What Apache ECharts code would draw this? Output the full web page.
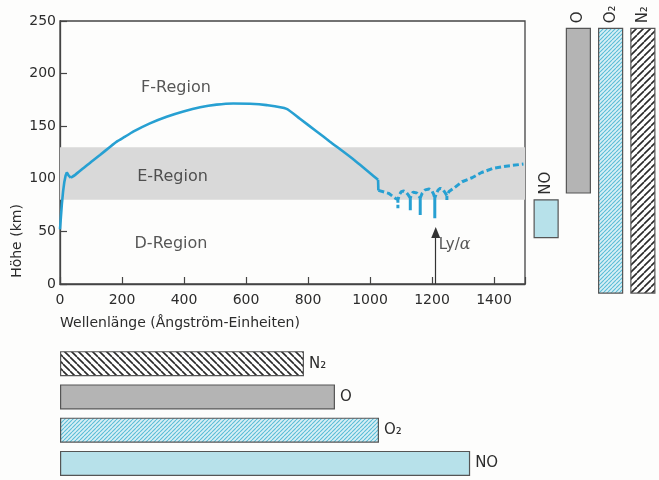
<!DOCTYPE html>
<html><head><meta charset="utf-8">
<script src="https://cdn.jsdelivr.net/npm/echarts@6/dist/echarts.min.js"></script>
<style>html,body{margin:0;padding:0;background:#fdfdfc}#c{width:659px;height:480px}</style>
</head><body><div id="c"></div>
<script>
// ---- data ----
const solidX = [0, 3, 6, 10, 14, 18, 22, 28, 35, 50, 75, 100, 129, 160, 183, 210, 236, 290, 344, 398, 452, 505, 559, 613, 667, 731, 774, 828, 871, 950, 1026, 1027];
const solidY = [52, 64, 76, 88, 97, 103, 106, 103, 101, 104, 110, 116, 122.6, 130, 135.3, 140, 144.8, 152.7, 159, 164, 168, 170.5, 171.6, 171.4, 170, 166.5, 157, 145, 135.3, 117.7, 99, 89];
const dashX = [1027, 1033, 1060, 1082, 1090, 1090, 1090, 1095, 1101, 1109, 1117, 1124, 1130, 1130, 1130, 1134, 1139, 1144, 1151, 1157, 1162, 1162, 1162, 1168, 1178, 1191, 1200, 1205, 1209, 1209, 1209, 1214, 1220, 1227, 1236, 1243, 1248, 1248, 1248, 1255, 1270, 1297, 1329, 1360, 1398, 1445, 1495];
const dashY = [89, 88.4, 86.2, 81.5, 80, 72, 80, 85, 87.8, 88.4, 87, 84.5, 81.7, 70, 81.7, 85, 87.3, 87.7, 86.5, 84, 81.7, 65.5, 81.7, 86, 89.5, 90.3, 88.5, 85.5, 81.7, 62.5, 81.7, 86, 89.5, 91, 89.5, 86.5, 84, 79.8, 84, 88, 91, 97.2, 101, 106, 110, 112.2, 114];
const eRegion = [80, 130];
const xTicks = [0, 200, 400, 600, 800, 1000, 1200, 1400];
const yTicks = [0, 50, 100, 150, 200, 250];
const regionNames = ['F-Region', 'E-Region', 'D-Region'];
const regionX = [374, 363, 358];
const regionY = [186, 102, 38];
const lyX = 1212, lyTop = 49;
const lyLabelX = 1222, lyLabelY = 37;
const limitNames = ['N₂', 'O', 'O₂', 'NO'];
const limitValues = [787, 887, 1029, 1323];
const colNames = ['NO', 'O', 'O₂', 'N₂'];
const colPos = [0.5, 1.5, 2.5, 3.5];
const colLow = [44, 86.5, -8.6, -8.6];
const colHigh = [80, 243, 243, 243];

// ---- patterns ----
function hatch(size, bg, line, lw, dir) {
  const c = document.createElement('canvas');
  c.width = c.height = size;
  const g = c.getContext('2d');
  g.fillStyle = bg; g.fillRect(0, 0, size, size);
  g.strokeStyle = line; g.lineWidth = lw;
  g.beginPath();
  for (let k = -1; k <= 1; k++) {
    if (dir > 0) { g.moveTo(k * size, size); g.lineTo(k * size + size, 0); }
    else { g.moveTo(k * size, 0); g.lineTo(k * size + size, size); }
  }
  g.stroke();
  return { image: c, repeat: 'repeat' };
}
const fillN2bottom = hatch(7, '#ffffff', '#2a2a2a', 1.6, -1);
const fillN2right = hatch(7, '#ffffff', '#2a2a2a', 1.6, 1);
const fillO = '#b4b4b4';
const fillO2 = hatch(4, '#d8eff5', '#59bcd6', 1.1, 1);
const fillNO = '#b7e1ea';
const bottomFills = [fillN2bottom, fillO, fillO2, fillNO];
const colFills = [fillNO, fillO, fillO2, fillN2right];

const FONT = 'DejaVu Sans';
const TXT = '#2c2c2c';
const LINE = '#27a0d2';

const solidPts = solidX.map((x, i) => [x, solidY[i]]);
const segA = solidPts.slice(0, 9);                     // steep rise and small dip
const segB = solidPts.slice(8, solidPts.length - 1);   // main arc
const segC = solidPts.slice(solidPts.length - 2);      // short drop near 1030

const lineBase = { type: 'line', xAxisIndex: 0, yAxisIndex: 0, showSymbol: false, silent: true, z: 5 };

const chart = echarts.init(document.getElementById('c'), null, { renderer: 'canvas' });
chart.setOption({
  backgroundColor: '#fdfdfc',
  animation: false,
  textStyle: { fontFamily: FONT },
  grid: [
    { left: 60, right: 134, top: 21, bottom: 196, show: true, borderColor: '#444', borderWidth: 1.3, backgroundColor: 'transparent' },
    { left: 60, right: 134, top: 347, bottom: 0 },
    { left: 530, right: -2, top: 21, bottom: 196 }
  ],
  xAxis: [
    { type: 'value', gridIndex: 0, min: 0, max: 1500, interval: 200,
      axisLine: { lineStyle: { color: '#444', width: 1.3 } },
      axisTick: { inside: true, length: 7, lineStyle: { color: '#444', width: 1.2 } },
      splitLine: { show: false },
      axisLabel: { color: TXT, fontSize: 14, margin: 9, fontFamily: FONT,
        formatter: v => xTicks.includes(v) ? String(v) : '' } },
    { type: 'value', gridIndex: 1, min: 0, max: 1500, show: false },
    { type: 'value', gridIndex: 2, min: 0, max: 4, show: false }
  ],
  yAxis: [
    { type: 'value', gridIndex: 0, min: 0, max: 250, interval: 50,
      axisLine: { show: true, lineStyle: { color: '#444', width: 1.3 } },
      axisTick: { show: true, inside: true, length: 7, lineStyle: { color: '#444', width: 1.2 } },
      splitLine: { show: false },
      axisLabel: { color: TXT, fontSize: 14, margin: 4, fontFamily: FONT,
        formatter: v => yTicks.includes(v) ? String(v) : '' } },
    { type: 'category', gridIndex: 1, data: limitNames, inverse: true, show: false },
    { type: 'value', gridIndex: 2, min: 0, max: 250, show: false }
  ],
  graphic: [
    { type: 'text', x: 17, y: 241, rotation: Math.PI / 2,
      style: { text: 'Höhe (km)', fill: TXT, font: '14px "DejaVu Sans"', align: 'center', verticalAlign: 'middle' } },
    { type: 'text', x: 180, y: 323,
      style: { text: 'Wellenlänge (Ångström-Einheiten)', fill: TXT, font: '14px "DejaVu Sans"', align: 'center', verticalAlign: 'middle' } }
  ],
  series: [
    Object.assign({}, lineBase, { data: segA, lineStyle: { color: LINE, width: 2.6 },
      markArea: { silent: true, itemStyle: { color: '#d9d9d9' },
        data: [[{ yAxis: eRegion[0] }, { yAxis: eRegion[1] }]] } }),
    Object.assign({}, lineBase, { data: segB, smooth: 0.2, lineStyle: { color: LINE, width: 2.6 } }),
    Object.assign({}, lineBase, { data: segC, lineStyle: { color: LINE, width: 2.6 } }),
    Object.assign({}, lineBase, { data: dashX.map((x, i) => [x, dashY[i]]),
      lineStyle: { color: LINE, width: 3, type: [6, 3] },
      markLine: { silent: true, symbol: ['none', 'triangle'], symbolSize: [9, 11],
        lineStyle: { color: '#333', width: 1.2, type: 'solid' }, label: { show: false },
        data: [[{ coord: [lyX, 0] }, { coord: [lyX, lyTop] }]] } }),
    { type: 'scatter', xAxisIndex: 0, yAxisIndex: 0, symbolSize: 0, silent: true,
      data: regionX.map((x, i) => ({ value: [x, regionY[i]], name: regionNames[i] })),
      label: { show: true, position: 'inside', formatter: p => p.name, color: TXT, fontSize: 16, fontFamily: FONT } },
    { type: 'scatter', xAxisIndex: 0, yAxisIndex: 0, symbolSize: 0, silent: true,
      data: [[lyLabelX, lyLabelY]],
      label: { show: true, position: 'right', distance: 0, formatter: '{a|Ly/}{b|α}',
        rich: { a: { color: TXT, fontSize: 15, fontFamily: FONT },
                b: { color: TXT, fontSize: 16, fontFamily: 'DejaVu Serif', fontStyle: 'italic' } } } },
    { type: 'bar', xAxisIndex: 1, yAxisIndex: 1, barWidth: 25, silent: true,
      data: limitValues.map((v, i) => ({ value: v, itemStyle: { color: bottomFills[i] } })),
      itemStyle: { borderColor: '#555', borderWidth: 1.2 },
      label: { show: true, position: 'right', distance: 5, formatter: p => limitNames[p.dataIndex], color: TXT, fontSize: 15, fontFamily: FONT } },
    { type: 'custom', xAxisIndex: 2, yAxisIndex: 2, silent: true, clip: false,
      data: colPos.map((p, i) => [p, colLow[i], colHigh[i]]),
      renderItem: function (params, api) {
        const i = params.dataIndex;
        const top = api.coord([api.value(0), api.value(2)]);
        const bot = api.coord([api.value(0), api.value(1)]);
        const w = 24;
        return { type: 'group', children: [
          { type: 'rect', shape: { x: top[0] - w / 2, y: top[1], width: w, height: bot[1] - top[1] },
            style: { fill: colFills[i], stroke: '#555', lineWidth: 1.2 } },
          { type: 'text', x: top[0], y: top[1] - 5, rotation: Math.PI / 2,
            style: { text: colNames[i], fill: TXT, font: '15px "DejaVu Sans"', align: 'left', verticalAlign: 'middle' } }
        ] };
      } }
  ]
});
</script></body></html>
